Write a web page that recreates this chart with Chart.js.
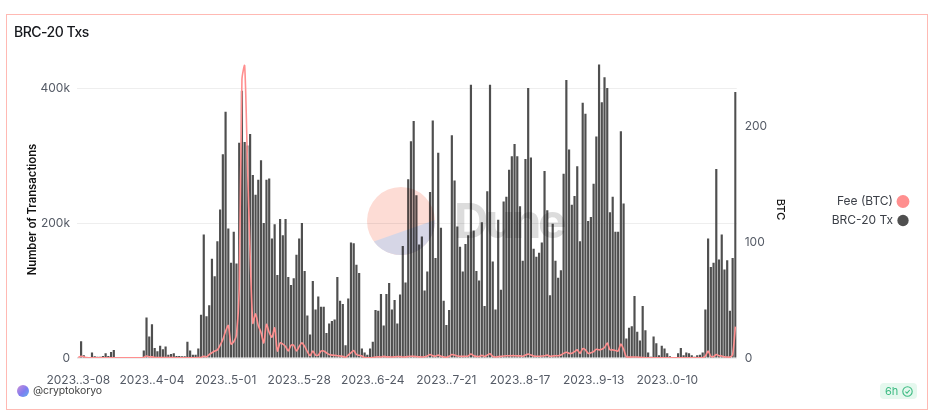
<!DOCTYPE html>
<html>
<head>
<meta charset="utf-8">
<style>
html,body{margin:0;padding:0;background:#fff;width:942px;height:416px;overflow:hidden;font-family:"Open Sans",sans-serif}
#card{position:absolute;left:6px;top:14px;width:920px;height:394px;border:1px solid #ffb9b3;box-sizing:content-box}
#c{position:absolute;left:0;top:0}
#title{position:absolute;left:14px;top:23px;font:500 14px/18px Inter,sans-serif;letter-spacing:-.5px;color:#16181d}
#handle{position:absolute;left:33px;top:384px;font:10.5px/14px Inter,sans-serif;letter-spacing:-.1px;color:#444}
#avatar{position:absolute;left:17px;top:385px;width:12px;height:12px;border-radius:50%;background:linear-gradient(135deg,#cf8fd6,#7f7cf0 55%,#5fb0ee)}
#badge{position:absolute;left:880px;top:383px;width:37px;height:16px;border-radius:4px;background:#e5f8ee;color:#3dbb83;font:11px/16px Inter,sans-serif}
#badge span{position:absolute;left:5px;top:0}
#badge svg{position:absolute;left:22px;top:3px}
#wm{position:absolute;left:0;top:0;pointer-events:none;mix-blend-mode:multiply}
</style>
</head>
<body>
<div id="card"></div>
<canvas id="c" width="942" height="416" style="width:942px;height:416px"></canvas>
<svg id="wm" width="942" height="416">
  <circle cx="401" cy="221" r="34" fill="#fddcd5"/>
  <path d="M373.8 241.4 A34 34 0 0 0 435 220 Z" fill="#d6d6e6"/>
  <text x="454" y="238" font-family="Inter,sans-serif" font-weight="700" font-size="48" letter-spacing="-3.5" fill="#dcdcdc">Dune</text>
</svg>
<div id="title">BRC-20 Txs</div>
<div id="avatar"></div>
<div id="handle">@cryptokoryo</div>
<div id="badge"><span>6h</span><svg width="11" height="11" viewBox="0 0 11 11" fill="none" stroke="#3dbb83" stroke-width="1.1"><circle cx="5.5" cy="5.5" r="4.7"/><path d="M3.4 5.6 L5 7.1 L7.7 4"/></svg></div>

<script src="https://cdn.jsdelivr.net/npm/chart.js@4/dist/chart.umd.min.js"></script>
<script>
const tickLabels = ["2023..3-08","2023..4-04","2023..5-01","2023..5-28","2023..6-24","2023..7-21","2023..8-17","2023..9-13","2023..0-10"];
const tickEvery = 27;
const leftTicks = [0, 200, 400];
const rightTicks = [0, 100, 200];

// BRC-20 transactions per day, in thousands
const txs = [
0.5,25,4,0.5,0.5,8,2.5,2,2,3,7,3,9,12,
0,0,0,0,0,0,0,0,0,0,
11,60,32,50,15,10,18,13,17,5,6,7,3,3,2.5,2.5,24,11,5,5,14,64,183,62,78,147,
121,173,220,302,365,192,141,187,140,319,396,320,315,332,271,242,264,293,200,264,
266,177,198,123,206,182,206,120,108,118,153,177,200,129,63,35,114,72,91,76,
76,37,51,55,57,120,85,80,19,88,171,170,138,126,14,8,5,14,24,71,
70,95,48,95,111,72,86,51,94,166,112,265,321,351,241,168,180,100,128,246,
352,148,304,193,85,49,71,330,263,195,165,128,169,182,405,189,129,115,201,77,
247,405,143,72,205,101,232,239,279,299,317,299,225,144,295,400,297,162,150,156,
171,277,219,93,199,144,119,130,273,412,309,227,240,284,173,378,362,203,209,258,
328,435,379,416,400,216,239,187,187,336,229,29,45,47,92,39,26,77,41,8,
2,32,22,4,18,14,7,2.5,0.5,0.5,7,15,4,8,7,4,2,4,5,8,
72,177,135,141,280,146,183,131,145,70,148,394];

// Fees per day, in BTC
const fee = [
0.5,1.5,1,0.3,0.2,0.2,0.2,0.2,0.2,0.2,0.2,0.2,0.2,0.2,
0.1,0.1,0.1,0.1,0.1,0.1,0.1,0.1,0.1,0.1,
0.5,1.7,1,1,0.5,0.4,0.4,0.3,0.3,0.3,0.3,0.3,0.2,0.2,0.2,0.2,0.2,0.2,0.2,0.2,0.3,0.5,1.5,1,3,4.5,
6,7,11,16,23,28,12,14,20,59,240,252,170,90,30,38,28,22,13,29,
22,18,26,6,13,12,10,6,11,11,6,10,13,10,5.5,2,6,2.5,2.5,6,
6,4.5,3,2.5,2.3,2,1.7,1.4,0.6,2.5,4.5,6.5,3,2.3,1.7,0.3,0.2,0.2,0.3,0.9,
1.1,0.9,1.4,1,1,0.8,1,1.3,1.2,0.9,1,1.3,1.5,1.4,1.2,1,0.8,1,1.8,3,
2,1.6,2.5,1.5,1,0.7,1.5,3,2.5,1.7,1.5,1.4,1.5,1.8,3.5,2,1.4,1.3,2.3,1.4,
2.5,3.7,1.4,0.9,1.2,1.4,1.7,1.9,2,2,2,1.8,1.8,1.5,2.5,3.5,2.5,1.7,1.5,1.5,
1.7,2,2.5,1.5,1.7,2,2,2.5,4,5,4,4,5.5,7,4,8,7,4,4.5,5.5,
7.5,7,7.5,9,13,7,7,6.5,6,12,7.5,1,0.8,0.8,0.8,0.8,0.5,0.4,0.2,0.2,
0.2,0.2,0.2,0.2,0.2,0.2,0.2,0.2,0.2,0.2,0.2,0.2,0.2,0.2,0.2,0.2,0.2,0.2,0.2,0.2,
1.7,6,1.5,1.2,3,2,1.7,1,0.8,0.8,3,27];

const categories = [];
for (let i = 0; i < txs.length; i++) {
  const d = new Date(Date.UTC(2023, 2, 8 + i));
  categories.push(d.toISOString().slice(0, 10));
}

const tickFont = {family: 'Inter, sans-serif', size: 12};
const tickColor = '#555b66';
const axisTitleFont = {family: 'Inter, sans-serif', size: 11.3, weight: '600'};
const setTicks = list => s => { s.ticks = list.map(value => ({value})); };

const moveLegend = {
  id: 'moveLegend',
  afterLayout(chart) {
    const shift = -27.5;
    chart.legend.top += shift;
    chart.legend.bottom += shift;
  }
};

new Chart(document.getElementById('c'), {
  plugins: [moveLegend],
  data: {
    labels: categories,
    datasets: [
      {type: 'line', label: 'Fee (BTC)', data: fee, yAxisID: 'yR', order: 0,
       borderColor: '#ff8f8f', backgroundColor: '#ff8f8f', borderWidth: 1.6,
       pointRadius: 0, tension: 0.25},
      {type: 'bar', label: 'BRC-20 Tx', data: txs, yAxisID: 'yL', order: 1,
       backgroundColor: '#4f4f4f', borderWidth: 0,
       categoryPercentage: 1, barPercentage: 0.8}
    ]
  },
  options: {
    responsive: false,
    animation: false,
    devicePixelRatio: 1,
    layout: {padding: {top: 61, right: 28, left: 0, bottom: 0}},
    plugins: {
      tooltip: {enabled: false},
      title: {display: false},
      legend: {
        position: 'right', align: 'center', rtl: true,
        labels: {usePointStyle: true, pointStyle: 'circle', boxWidth: 8, boxHeight: 8, padding: 7,
                 color: '#3c4048', font: {family: 'Inter, sans-serif', size: 12}}
      }
    },
    scales: {
      x: {
        grid: {display: false}, border: {display: false},
        afterFit: s => { s.height = 58; },
        ticks: {
          autoSkip: false, maxRotation: 0, minRotation: 0, padding: 7,
          color: tickColor, font: tickFont,
          callback: (v, i) => i % tickEvery === 0 ? tickLabels[i / tickEvery] : null
        }
      },
      yL: {
        position: 'left', min: 0, max: 440,
        afterFit: s => { s.width = 77; },
        afterBuildTicks: setTicks(leftTicks),
        grid: {color: '#eeeeee', drawTicks: false}, border: {display: false},
        ticks: {padding: 7, color: tickColor, font: tickFont,
                callback: v => v === 0 ? '0' : v + 'k'},
        title: {display: true, text: 'Number of Transactions', color: '#111',
                font: axisTitleFont, padding: {top: 26, bottom: 0}}
      },
      yR: {
        position: 'right', min: 0, max: 256,
        afterFit: s => { s.width = 85; },
        afterBuildTicks: setTicks(rightTicks),
        grid: {display: false, drawTicks: false}, border: {display: false},
        ticks: {padding: 8, color: tickColor, font: tickFont},
        title: {display: true, text: 'BTC', color: '#111',
                font: {family: 'Inter, sans-serif', size: 11, weight: '500'}, padding: {top: 35, bottom: 0}}
      }
    }
  }
});
</script>
</body>
</html>
